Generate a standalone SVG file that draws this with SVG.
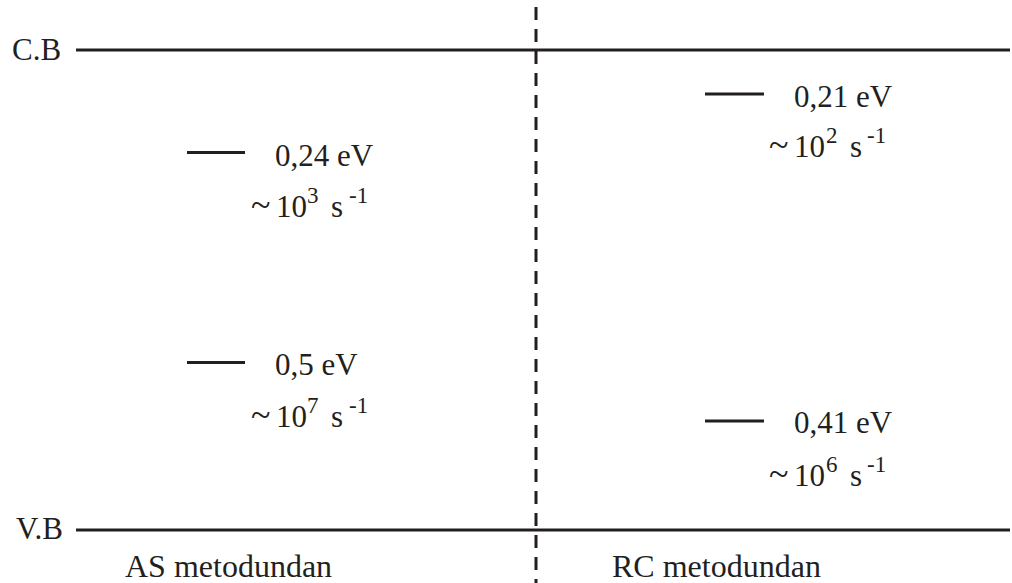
<svg xmlns="http://www.w3.org/2000/svg" width="1012" height="583" viewBox="0 0 1012 583">
<style>
.t{font-family:"Liberation Serif","Times New Roman",serif;font-size:31px;fill:#231f20}
.b{font-size:32px}
.s{font-size:23px}
.tl{font-size:36px}
.band{stroke:#231f20;stroke-width:3;fill:none}
.lvl{stroke:#231f20;stroke-width:3;fill:none}
.div{stroke:#231f20;stroke-width:3;stroke-dasharray:13 9;fill:none}
</style>
<rect width="1012" height="583" fill="#fff"/>
<g id="connectors">
<line class="div" x1="536" y1="7" x2="536" y2="583"/>
</g>
<g id="cb">
<line class="band" x1="76" y1="50" x2="1010" y2="50"/>
<text class="t" x="12" y="60">C.B</text>
</g>
<g id="vb">
<line class="band" x1="76" y1="530" x2="1010" y2="530"/>
<text class="t" x="16" y="539">V.B</text>
</g>
<g id="as-024">
<line class="lvl" x1="187" y1="152.5" x2="245" y2="152.5"/>
<text class="t" x="275" y="166">0,24 eV</text>
<text class="t" y="217"><tspan class="tl" x="251">~</tspan><tspan x="276">10</tspan><tspan class="s" x="307" y="203">3</tspan><tspan x="331" y="217">s</tspan><tspan class="s" x="349" y="203">-1</tspan></text>
</g>
<g id="as-05">
<line class="lvl" x1="187" y1="362.5" x2="245" y2="362.5"/>
<text class="t" x="275" y="375">0,5 eV</text>
<text class="t" y="427"><tspan class="tl" x="251">~</tspan><tspan x="276">10</tspan><tspan class="s" x="307" y="413">7</tspan><tspan x="331" y="427">s</tspan><tspan class="s" x="349" y="413">-1</tspan></text>
</g>
<g id="rc-021">
<line class="lvl" x1="705" y1="94" x2="764" y2="94"/>
<text class="t" x="794" y="107">0,21 eV</text>
<text class="t" y="157"><tspan class="tl" x="769">~</tspan><tspan x="794">10</tspan><tspan class="s" x="826" y="143">2</tspan><tspan x="850" y="157">s</tspan><tspan class="s" x="867" y="143">-1</tspan></text>
</g>
<g id="rc-041">
<line class="lvl" x1="705" y1="421" x2="764" y2="421"/>
<text class="t" x="794" y="433">0,41 eV</text>
<text class="t" y="486"><tspan class="tl" x="769">~</tspan><tspan x="794">10</tspan><tspan class="s" x="826" y="472">6</tspan><tspan x="850" y="486">s</tspan><tspan class="s" x="867" y="472">-1</tspan></text>
</g>
<g id="labels">
<text class="t b" x="125" y="577">AS metodundan</text>
<text class="t b" x="612" y="577">RC metodundan</text>
</g>
</svg>
